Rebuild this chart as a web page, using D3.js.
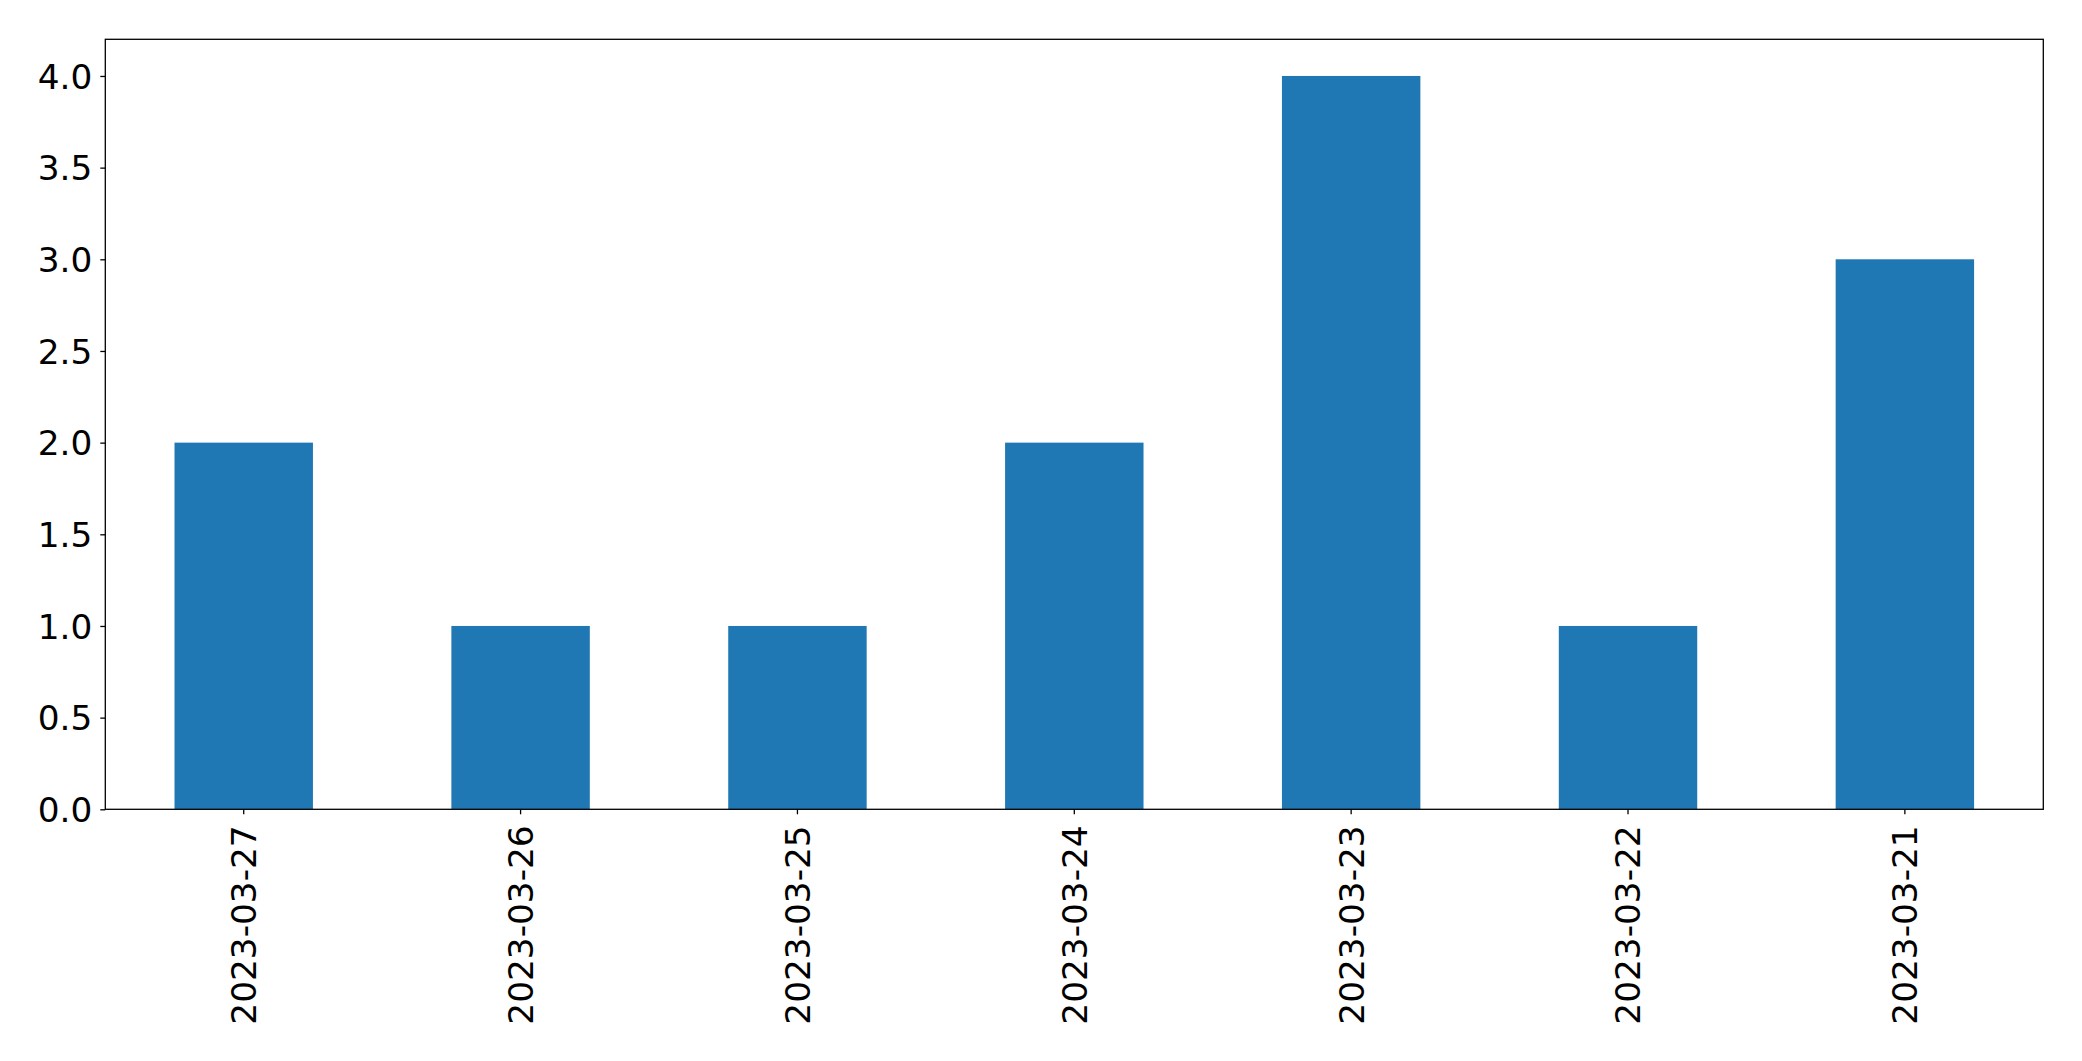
<!DOCTYPE html>
<html><head><meta charset="utf-8">
<script src="https://cdn.jsdelivr.net/npm/d3@7"></script>
<style>body{margin:0;background:#fff;}svg{display:block;}</style>
</head><body>
<script>
const categories = ["2023-03-27","2023-03-26","2023-03-25","2023-03-24","2023-03-23","2023-03-22","2023-03-21"];
const values = [2,1,1,2,4,1,3];
const yTicks = [0,0.5,1,1.5,2,2.5,3,3.5,4];

const W = 2082, H = 1061;
const m = {left:105.3, right:2043.3, top:39.3, bottom:809.3};
const svg = d3.select("body").append("svg").attr("width",W).attr("height",H);
const font = "DejaVu Sans";
const fs = 34.3;

const x = d3.scaleBand().domain(categories).range([m.left,m.right]).paddingInner(0.5).paddingOuter(0.25);
const y = d3.scaleLinear().domain([0,4.2]).range([m.bottom,m.top]);

svg.append("g").selectAll("rect").data(values).join("rect")
  .attr("x",(d,i)=>x(categories[i]))
  .attr("width",x.bandwidth())
  .attr("y",d=>y(d))
  .attr("height",d=>y(0)-y(d))
  .attr("fill","#1f77b4");

// frame
svg.append("rect").attr("x",m.left).attr("y",m.top).attr("width",m.right-m.left).attr("height",m.bottom-m.top)
  .attr("fill","none").attr("stroke","#000").attr("stroke-width",1.3);

// y axis
const ya = svg.append("g").attr("transform",`translate(${m.left},0)`)
  .call(d3.axisLeft(y).tickValues(yTicks).tickFormat(d3.format(".1f")).tickSize(5).tickPadding(8));
ya.select(".domain").remove();
ya.selectAll("line").attr("stroke","#000").attr("stroke-width",1.3);
ya.selectAll("text").attr("font-family",font).attr("font-size",fs).attr("fill","#000").attr("dy","0.36em");

// x axis
const xa = svg.append("g").attr("transform",`translate(0,${m.bottom})`)
  .call(d3.axisBottom(x).tickSize(5).tickPadding(0));
xa.select(".domain").remove();
xa.selectAll("line").attr("stroke","#000").attr("stroke-width",1.3);
xa.selectAll("text")
  .attr("font-family",font).attr("font-size",fs).attr("fill","#000")
  .attr("text-anchor","end")
  .attr("y",0).attr("x",0).attr("dy","0.36em")
  .attr("transform","translate(0,16) rotate(-90)");
</script>
</body></html>
